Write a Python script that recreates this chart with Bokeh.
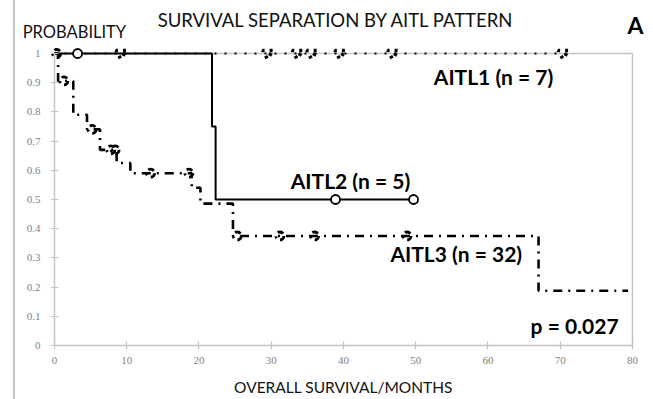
from bokeh.plotting import figure
from bokeh.models import Range1d, Label, Div, FixedTicker
from bokeh.layouts import row
from bokeh.embed import file_html
from bokeh.resources import INLINE

# Kaplan-Meier step curves (months, survival probability)
aitl1_time = [0.0, 70.4]
aitl1_surv = [1.0, 1.0]
aitl1_cens_time = [9.2, 29.5, 33.6, 35.6, 39.5, 46.8, 70.4]
aitl1_cens_surv = [1.0, 1.0, 1.0, 1.0, 1.0, 1.0, 1.0]

aitl2_time = [0.0, 21.8, 22.3, 49.7]
aitl2_surv = [1.0, 0.75, 0.5, 0.5]
aitl2_cens_time = [3.2, 38.9, 49.7]
aitl2_cens_surv = [1.0, 0.5, 0.5]

aitl3_time = [0.0, 0.5, 2.6, 4.5, 6.3, 8.6, 10.5, 19.0, 20.2, 24.7, 67.0, 79.4]
aitl3_surv = [1.0, 0.906, 0.79, 0.74, 0.67, 0.625, 0.59, 0.54, 0.486, 0.375, 0.1875, 0.1875]
aitl3_cens_time = [0.3, 1.3, 5.2, 7.8, 8.4, 13.3, 18.6, 25.3, 31.2, 36.0, 48.8]
aitl3_cens_surv = [1.0, 0.906, 0.74, 0.67, 0.67, 0.59, 0.59, 0.375, 0.375, 0.375, 0.375]

x_ticks = [0, 10, 20, 30, 40, 50, 60, 70, 80]
y_ticks = [0, 0.1, 0.2, 0.3, 0.4, 0.5, 0.6, 0.7, 0.8, 0.9, 1.0]
y_tick_labels = ["0", "0.1", "0.2", "0.3", "0.4", "0.5", "0.6", "0.7", "0.8", "0.9", "1"]

X_MAX = 80
Y_MAX = 1.0

FONT = "Lato"
GRAY = "#c4c4c4"
TICK_TEXT = "#808080"

# the frame fills the whole canvas; the axes are pinned at x = 0 and y = 0
p = figure(width=638, height=399,
           x_range=Range1d(-5.398, 82.91), y_range=Range1d(-0.185, 1.1815),
           output_backend="svg", toolbar_location=None,
           min_border_left=0, min_border_right=0,
           min_border_top=0, min_border_bottom=0)
p.title.visible = False
p.outline_line_color = None
p.grid.visible = False
p.background_fill_color = "white"
p.border_fill_color = "white"

for ax in (p.xaxis[0], p.yaxis[0]):
    ax.fixed_location = 0
    ax.axis_line_color = GRAY
    ax.axis_line_width = 1.5
    ax.major_tick_line_color = GRAY
    ax.major_tick_line_width = 1.2
    ax.major_tick_in = 4
    ax.major_tick_out = 4
    ax.minor_tick_line_color = None
    ax.major_label_text_color = TICK_TEXT
    ax.major_label_text_font = "Liberation Serif"
    ax.major_label_text_font_size = "11px"

p.xaxis.bounds = (0, X_MAX)
p.yaxis.bounds = (0, Y_MAX)
p.xaxis.ticker = FixedTicker(ticks=x_ticks)
p.yaxis.ticker = FixedTicker(ticks=y_ticks)
p.yaxis.major_label_overrides = {t: s for t, s in zip(y_ticks, y_tick_labels)}
p.xaxis.major_label_standoff = 8
p.yaxis.major_label_standoff = 10

p.xaxis.axis_label = "OVERALL SURVIVAL/MONTHS"
p.xaxis.axis_label_text_font = FONT
p.xaxis.axis_label_text_font_style = "normal"
p.xaxis.axis_label_text_font_size = "15.5px"
p.xaxis.axis_label_text_color = "#111111"
p.xaxis.axis_label_standoff = 10

# frame lines on top and right
p.line([0, X_MAX, X_MAX], [Y_MAX, Y_MAX, 0], line_color=GRAY, line_width=1.5)

# AITL1
p.line(aitl1_time, aitl1_surv, line_color="black", line_width=2.2, line_dash="2 8")
p.scatter(aitl1_cens_time, aitl1_cens_surv, marker="inverted_triangle", size=10,
          fill_color=None, line_color="black", line_width=3.5, line_dash="3 5")

# AITL2
p.step(aitl2_time, aitl2_surv, mode="after", line_color="black", line_width=2)
p.scatter(aitl2_cens_time, aitl2_cens_surv, marker="circle", size=9,
          fill_color="white", line_color="black", line_width=1.8)

# AITL3
p.step(aitl3_time, aitl3_surv, mode="after", line_color="black", line_width=2.6,
       line_dash="9 6 2 6")
p.scatter(aitl3_cens_time, aitl3_cens_surv, marker="circle", size=8,
          fill_color=None, line_color="black", line_width=2.8, line_dash="6 4 2 4")


def add_text(x, y, text, size, style="bold", align="left", color="black"):
    p.add_layout(Label(x=x, y=y, text=text,
                       text_font=FONT, text_font_size=size,
                       text_font_style=style, text_align=align,
                       text_baseline="middle", text_color=color))


add_text(39.0, 1.116, "SURVIVAL SEPARATION BY AITL PATTERN", "18.5px", style="normal",
         align="center", color="#111111")
add_text(-4.4, 1.075, "PROBABILITY", "16.5px", style="normal", color="#111111")
add_text(80.4, 1.099, "A", "23px", align="center")

add_text(52.5, 0.921, "AITL1 (n = 7)", "21px")
add_text(32.7, 0.565, "AITL2 (n = 5)", "21px")
add_text(46.5, 0.315, "AITL3 (n = 32)", "21px")
add_text(65.9, 0.068, "p = 0.027", "21px")

edge = Div(width=15, height=399, margin=0,
           styles={"border-right": "2px solid #c4c4c4", "box-sizing": "border-box"})
layout = row(edge, p, spacing=0)

open("out.html", "w").write(file_html(layout, INLINE))
